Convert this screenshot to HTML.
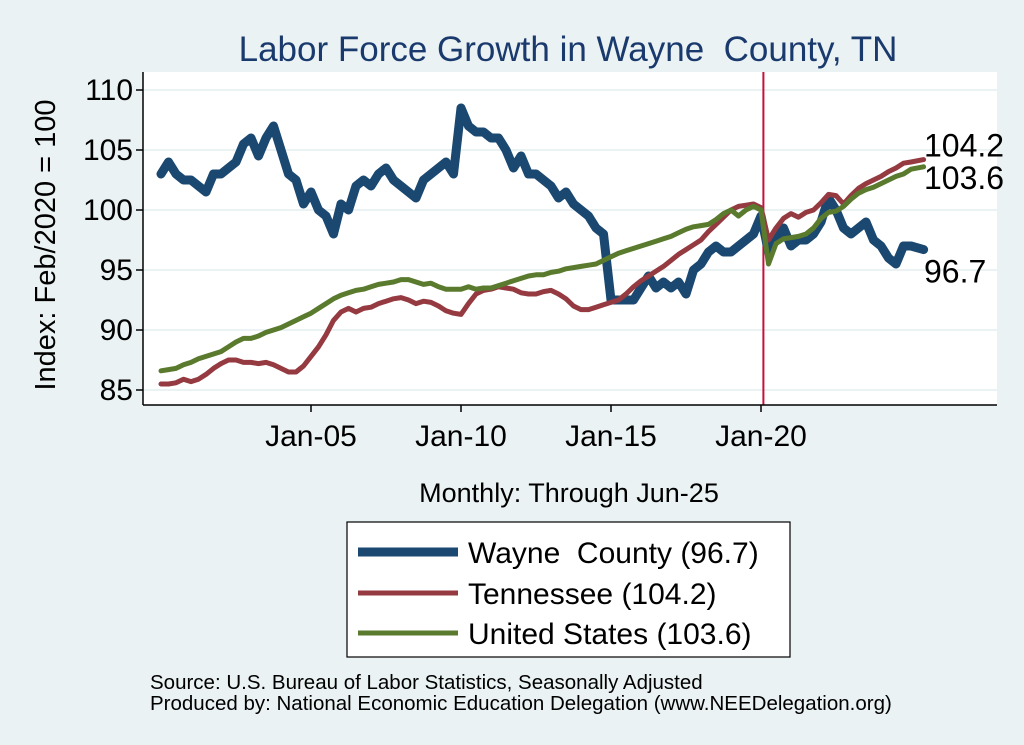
<!DOCTYPE html>
<html><head><meta charset="utf-8"><style>
body{margin:0;background:#eaf2f3;font-family:"Liberation Sans",sans-serif;}
svg{display:block}
</style></head><body>
<svg id="c" width="1024" height="745" font-family="Liberation Sans, sans-serif">
<rect x="0" y="0" width="1024" height="745" fill="#eaf2f3"/>
<text x="568" y="61" text-anchor="middle" font-size="35" fill="#1a3a6e">Labor Force Growth in Wayne&#160; County, TN</text>
<rect x="143" y="72" width="854" height="333" fill="#fff"/>
<g id="grid"></g>
<g id="series"></g>
<line x1="143" y1="72" x2="143" y2="405" stroke="#000" stroke-width="1.5"/>
<line x1="143" y1="405" x2="997" y2="405" stroke="#000" stroke-width="1.5"/>
<g id="ticks"></g>
<text transform="translate(55,245) rotate(-90)" text-anchor="middle" font-size="29" fill="#000">Index: Feb/2020 = 100</text>
<text x="569" y="502" text-anchor="middle" font-size="27" fill="#000">Monthly: Through Jun-25</text>
<g>
<rect x="347" y="522" width="443" height="135" fill="#fff" stroke="#000" stroke-width="1.2"/>
<line x1="358" y1="552" x2="458" y2="552" stroke="#1b4870" stroke-width="9"/>
<text x="468" y="563" font-size="30">Wayne&#160; County (96.7)</text>
<line x1="358" y1="593" x2="458" y2="593" stroke="#943a40" stroke-width="5"/>
<text x="468" y="604" font-size="30">Tennessee (104.2)</text>
<line x1="358" y1="633" x2="458" y2="633" stroke="#5a7a2e" stroke-width="5"/>
<text x="468" y="644" font-size="30">United States (103.6)</text>
</g>
<text x="150" y="689" font-size="20.5">Source: U.S. Bureau of Labor Statistics, Seasonally Adjusted</text>
<text x="150" y="710" font-size="20.5">Produced by: National Economic Education Delegation (www.NEEDelegation.org)</text>
</svg>
<script>
const yTicks=[85,90,95,100,105,110];
const xTickYears=[2005,2010,2015,2020];
const xTickLabels=["Jan-05","Jan-10","Jan-15","Jan-20"];
const startYear=2000;
const wayne=[103,104,103,102.5,102.5,102,101.5,103,103,103.5,104,105.5,106,104.5,106,107,105,103,102.5,100.5,101.5,100,99.5,98,100.5,100,102,102.5,102,103,103.5,102.5,102,101.5,101,102.5,103,103.5,104,103,108.5,107,106.5,106.5,106,106,105,103.5,104.5,103,103,102.5,102,101,101.5,100.5,100,99.5,98.5,98,92.5,92.5,92.5,92.5,93.5,94.5,93.5,94,93.5,94,93,95,95.5,96.5,97,96.5,96.5,97,97.5,98,99.5,96.5,97.5,98.5,97,97.5,97.5,98,99,101,100,98.5,98,98.5,99,97.5,97,96,95.5,97,97,96.7];
const tennessee=[85.5,85.5,85.6,85.9,85.7,85.9,86.3,86.8,87.2,87.5,87.5,87.3,87.3,87.2,87.3,87.1,86.8,86.5,86.5,87,87.8,88.6,89.6,90.8,91.5,91.8,91.5,91.8,91.9,92.2,92.4,92.6,92.7,92.5,92.2,92.4,92.3,92,91.6,91.4,91.3,92.2,93,93.3,93.4,93.6,93.5,93.4,93.1,93,93,93.2,93.3,93,92.6,92,91.7,91.7,91.9,92.1,92.3,92.5,93,93.6,94.1,94.5,94.9,95.3,95.8,96.3,96.7,97.1,97.5,98.2,98.8,99.4,100,100.3,100.4,100.5,100.2,97.5,98.5,99.3,99.7,99.4,99.8,100,100.6,101.3,101.2,100.5,101.2,101.8,102.2,102.5,102.8,103.2,103.5,103.9,104,104.2];
const unitedStates=[86.6,86.7,86.8,87.1,87.3,87.6,87.8,88,88.2,88.6,89,89.3,89.3,89.5,89.8,90,90.2,90.5,90.8,91.1,91.4,91.8,92.2,92.6,92.9,93.1,93.3,93.4,93.6,93.8,93.9,94,94.2,94.2,94,93.8,93.9,93.6,93.4,93.4,93.4,93.6,93.4,93.5,93.5,93.7,93.9,94.1,94.3,94.5,94.6,94.6,94.8,94.9,95.1,95.2,95.3,95.4,95.5,95.8,96.1,96.4,96.6,96.8,97,97.2,97.4,97.6,97.8,98.1,98.4,98.6,98.7,98.8,99.2,99.7,100,99.5,100,100.3,100,95.5,97.2,97.6,97.7,97.8,98,98.5,99.3,99.8,99.9,100.3,100.9,101.4,101.7,101.9,102.2,102.5,102.8,103,103.4,103.6];
const NS='http://www.w3.org/2000/svg';
const yS=v=>210-(v-100)*12;
const xS=yr=>161+(yr-startYear)*30;
const qx=(i,len)=>xS(startYear+i*0.25+(i===len-1?0.17:0));
const grid=document.getElementById('grid'),ticks=document.getElementById('ticks'),ser=document.getElementById('series');
function mk(tag,a,parent){const e=document.createElementNS(NS,tag);for(const k in a)e.setAttribute(k,a[k]);parent.appendChild(e);return e;}
yTicks.forEach(v=>{
 const g=mk('line',{x1:143,x2:997,y1:yS(v),y2:yS(v),stroke:'#eaf2f3','stroke-width':2},grid);
 
 
 const t=mk('line',{x1:136,x2:143,y1:yS(v),y2:yS(v),stroke:'#000','stroke-width':1.5},ticks);
 
 
 const l=mk('text',{x:133,y:yS(v)+10,'text-anchor':'end','font-size':30},ticks);
 l.textContent=v;
 
 
});
xTickYears.forEach((yr,i)=>{
 const t=mk('line',{x1:xS(yr),x2:xS(yr),y1:405,y2:412,stroke:'#000','stroke-width':1.5},ticks);
 
 
 const l=mk('text',{x:xS(yr),y:446,'text-anchor':'middle','font-size':30},ticks);
 l.textContent=xTickLabels[i];
 
 
});
const vl=mk('line',{x1:xS(2020.08),x2:xS(2020.08),y1:72,y2:405,stroke:'#c8103e','stroke-width':2},ser);


function line(arr,color,w,name){
 const d=arr.map((v,i)=>(i?'L':'M')+qx(i,arr.length).toFixed(1)+','+yS(v).toFixed(1)).join('');
 const p=mk('path',{d:d,fill:'none',stroke:color,'stroke-width':w,'stroke-linejoin':'round','stroke-linecap':'round'},ser);
 
 
}
line(wayne,'#1b4870',9,'wayne-line');
line(tennessee,'#943a40',5,'tennessee-line');
line(unitedStates,'#5a7a2e',5,'us-line');
const last=a=>a[a.length-1];
[[last(tennessee),-3,'end-label-tn'],[last(unitedStates),22,'end-label-us'],[last(wayne),33,'end-label-wayne']].forEach(([v,off,nm])=>{
 const t=mk('text',{x:924,y:yS(v)+off,'font-size':32},ser);
 t.textContent=v.toFixed(1);
 
 
});
</script>
</body></html>
